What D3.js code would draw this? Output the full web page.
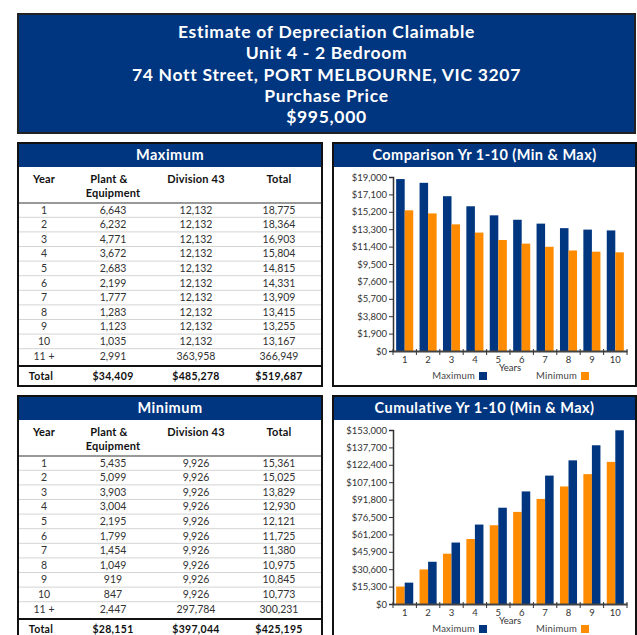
<!DOCTYPE html>
<html>
<head>
<meta charset="utf-8">
<script src="https://cdn.jsdelivr.net/npm/d3@7"></script>
<style>
  body { margin: 0; background: #fff; }
  text { font-family: "Century Gothic", Lato, "Open Sans", sans-serif; }
</style>
</head>
<body>
<div id="chart"></div>
<script>
////////////////////////////////////////////////////////////
//////////////////////// Data //////////////////////////////
////////////////////////////////////////////////////////////

var headerLines = [
    "Estimate of Depreciation Claimable",
    "Unit 4 - 2 Bedroom",
    "74 Nott Street, PORT MELBOURNE, VIC 3207",
    "Purchase Price",
    "$995,000"
];

var tableYears = ["1", "2", "3", "4", "5", "6", "7", "8", "9", "10", "11 +"];

var maxPlant = [6643, 6232, 4771, 3672, 2683, 2199, 1777, 1283, 1123, 1035, 2991];
var maxDiv43 = [12132, 12132, 12132, 12132, 12132, 12132, 12132, 12132, 12132, 12132, 363958];
var maxTotal = [18775, 18364, 16903, 15804, 14815, 14331, 13909, 13415, 13255, 13167, 366949];
var maxSums = [34409, 485278, 519687];

var minPlant = [5435, 5099, 3903, 3004, 2195, 1799, 1454, 1049, 919, 847, 2447];
var minDiv43 = [9926, 9926, 9926, 9926, 9926, 9926, 9926, 9926, 9926, 9926, 297784];
var minTotal = [15361, 15025, 13829, 12930, 12121, 11725, 11380, 10975, 10845, 10773, 300231];
var minSums = [28151, 397044, 425195];

var chartYears = ["1", "2", "3", "4", "5", "6", "7", "8", "9", "10"];
var compMax = [18775, 18364, 16903, 15804, 14815, 14331, 13909, 13415, 13255, 13167];
var compMin = [15361, 15025, 13829, 12930, 12121, 11725, 11380, 10975, 10845, 10773];
var cumMax = [18775, 37139, 54042, 69846, 84661, 98992, 112901, 126316, 139571, 152738];
var cumMin = [15361, 30386, 44215, 57145, 69266, 80991, 92371, 103346, 114191, 124964];

var compTicks = d3.range(0, 19001, 1900);
var cumTicks = d3.range(0, 153001, 15300);

////////////////////////////////////////////////////////////
//////////////////////// Set-up ////////////////////////////
////////////////////////////////////////////////////////////

var width = 637, height = 635;
var blue = "#00367f", orange = "#ff8c00";

var svg = d3.select("#chart").append("svg")
    .attr("width", width)
    .attr("height", height);

var fmt = d3.format(",");

////////////////////////////////////////////////////////////
//////////////////////// Header ////////////////////////////
////////////////////////////////////////////////////////////

svg.append("rect")
    .attr("x", 18).attr("y", 14)
    .attr("width", 617).attr("height", 119)
    .style("fill", blue)
    .style("stroke", "#222")
    .style("stroke-width", 2);

svg.selectAll(".headerText")
    .data(headerLines)
    .enter().append("text")
    .attr("x", 326.5)
    .attr("y", function (d, i) { return 32 + i * 21.3; })
    .attr("dy", "0.35em")
    .style("text-anchor", "middle")
    .style("fill", "#fff")
    .style("font-weight", "bold")
    .style("font-size", "17.5px")
    .style("letter-spacing", "0.7px")
    .text(function (d) { return d; });

////////////////////////////////////////////////////////////
//////////////////////// Tables ////////////////////////////
////////////////////////////////////////////////////////////

function drawTable(top, title, plant, div43, total, sums) {
    var g = svg.append("g");
    var left = 18, right = 322;
    var colX = [44, 113, 196, 279];
    var rowY = function (i) { return top + 67 + i * 14.6; };

    g.append("rect")
        .attr("x", left).attr("y", top)
        .attr("width", right - left).attr("height", 243)
        .style("fill", "#fff");

    //title bar
    g.append("rect")
        .attr("x", left).attr("y", top)
        .attr("width", right - left).attr("height", 24)
        .style("fill", blue);
    g.append("text")
        .attr("x", (left + right) / 2).attr("y", top + 12)
        .attr("dy", "0.35em")
        .style("text-anchor", "middle")
        .style("fill", "#fff")
        .style("font-weight", "bold")
        .style("font-size", "14.5px")
        .style("letter-spacing", "0.5px")
        .text(title);

    //column headers
    var heads = [
        { x: colX[0], lines: ["Year"] },
        { x: colX[1], lines: ["Plant &", "Equipment"] },
        { x: colX[2], lines: ["Division 43"] },
        { x: colX[3], lines: ["Total"] }
    ];
    heads.forEach(function (h) {
        h.lines.forEach(function (l, j) {
            g.append("text")
                .attr("x", h.x + (j === 0 && h.lines.length > 1 ? -4 : 0))
                .attr("y", top + 36 + j * 14)
                .attr("dy", "0.35em")
                .style("text-anchor", "middle")
                .style("font-weight", "bold")
                .style("font-size", "11px")
                .style("letter-spacing", "0.2px")
                .style("fill", "#111")
                .text(l);
        });
    });

    g.append("line")
        .attr("x1", left).attr("x2", right)
        .attr("y1", top + 60).attr("y2", top + 60)
        .style("stroke", "#999").style("stroke-width", 2);

    //row separators
    g.selectAll(".rowLine")
        .data(d3.range(10))
        .enter().append("line")
        .attr("x1", left).attr("x2", right)
        .attr("y1", function (i) { return rowY(i) + 7.3; })
        .attr("y2", function (i) { return rowY(i) + 7.3; })
        .style("stroke", "#d4d4d4").style("stroke-width", 1);

    //rows
    var rows = tableYears.map(function (y, i) {
        return [y, fmt(plant[i]), fmt(div43[i]), fmt(total[i])];
    });
    rows.forEach(function (r, i) {
        r.forEach(function (v, c) {
            g.append("text")
                .attr("x", colX[c]).attr("y", rowY(i))
                .attr("dy", "0.35em")
                .style("text-anchor", "middle")
                .style("font-size", "10.5px")
                .style("fill", "#333")
                .text(v);
        });
    });

    //total row
    g.append("line")
        .attr("x1", left).attr("x2", right)
        .attr("y1", top + 223).attr("y2", top + 223)
        .style("stroke", "#111").style("stroke-width", 2);
    ["Total"].concat(sums.map(function (s) { return "$" + fmt(s); }))
        .forEach(function (v, c) {
            g.append("text")
                .attr("x", colX[c] - (c === 0 ? 3 : 0)).attr("y", top + 233)
                .attr("dy", "0.35em")
                .style("text-anchor", "middle")
                .style("font-weight", "bold")
                .style("font-size", "10.5px")
                .style("letter-spacing", "0.3px")
                .style("fill", "#111")
                .text(v);
        });

    //outer border
    g.append("rect")
        .attr("x", left).attr("y", top)
        .attr("width", right - left).attr("height", 243)
        .style("fill", "none")
        .style("stroke", "#111").style("stroke-width", 2);
}

drawTable(143, "Maximum", maxPlant, maxDiv43, maxTotal, maxSums);
drawTable(396, "Minimum", minPlant, minDiv43, minTotal, minSums);

////////////////////////////////////////////////////////////
//////////////////////// Charts ////////////////////////////
////////////////////////////////////////////////////////////

function drawChart(top, title, series, ticks) {
    var g = svg.append("g");
    var left = 333, right = 636;
    var plotL = 393, plotR = 627;
    var y0 = top + 208, y1 = top + 34;

    g.append("rect")
        .attr("x", left).attr("y", top)
        .attr("width", right - left).attr("height", 24)
        .style("fill", blue);
    g.append("text")
        .attr("x", (left + right) / 2).attr("y", top + 12)
        .attr("dy", "0.35em")
        .style("text-anchor", "middle")
        .style("fill", "#fff")
        .style("font-weight", "bold")
        .style("font-size", "14.5px")
        .style("letter-spacing", "0.45px")
        .text(title);

    var x0 = d3.scaleBand()
        .domain(chartYears)
        .range([plotL, plotR])
        .paddingInner(0.27)
        .paddingOuter(0.135);

    var x1 = d3.scaleBand()
        .domain(series.map(function (s) { return s.name; }))
        .range([0, x0.bandwidth()]);

    var y = d3.scaleLinear()
        .domain([0, ticks[ticks.length - 1]])
        .range([y0, y1]);

    //bars
    series.forEach(function (s) {
        g.selectAll(".bar" + s.name)
            .data(s.values)
            .enter().append("rect")
            .attr("x", function (d, i) { return x0(chartYears[i]) + x1(s.name); })
            .attr("y", function (d) { return y(d); })
            .attr("width", x1.bandwidth())
            .attr("height", function (d) { return y0 - y(d); })
            .style("fill", s.color);
    });

    //y axis
    var yAxis = g.append("g")
        .attr("transform", "translate(" + plotL + ",0)")
        .call(d3.axisLeft(y)
            .tickValues(ticks)
            .tickSize(4)
            .tickPadding(2)
            .tickFormat(function (d) { return "$" + fmt(d); }));
    yAxis.select(".domain").style("stroke", "#333").style("stroke-width", 1.5);
    yAxis.selectAll(".tick line").style("stroke", "#333");
    yAxis.selectAll(".tick text")
        .style("font-size", "9.5px")
        .style("fill", "#333")
        .style("font-family", "\"Century Gothic\", Lato, sans-serif");

    //x axis
    var xAxis = g.append("g")
        .attr("transform", "translate(0," + y0 + ")")
        .call(d3.axisBottom(x0).tickSize(0).tickPadding(5));
    xAxis.select(".domain").style("stroke", "#444").style("stroke-width", 2);
    xAxis.selectAll(".tick text")
        .style("font-size", "9.5px")
        .style("fill", "#333")
        .style("font-family", "\"Century Gothic\", Lato, sans-serif");

    //category dividing ticks
    var step = x0.step();
    g.selectAll(".xdiv")
        .data(d3.range(11))
        .enter().append("line")
        .attr("x1", function (i) { return plotL + i * step; })
        .attr("x2", function (i) { return plotL + i * step; })
        .attr("y1", y0 - 2).attr("y2", y0 + 4)
        .style("stroke", "#333").style("stroke-width", 1);

    g.append("text")
        .attr("x", (plotL + plotR) / 2).attr("y", top + 225)
        .attr("dy", "0.35em")
        .style("text-anchor", "middle")
        .style("font-size", "9.5px")
        .style("fill", "#333")
        .text("Years");

    //legend
    var legend = [
        { name: "Maximum", color: blue, x: 479 },
        { name: "Minimum", color: orange, x: 581 }
    ];
    legend.forEach(function (l) {
        g.append("text")
            .attr("x", l.x - 4).attr("y", top + 233)
            .attr("dy", "0.35em")
            .style("text-anchor", "end")
            .style("font-size", "9.5px")
            .style("letter-spacing", "0.2px")
            .style("fill", "#444")
            .text(l.name);
        g.append("rect")
            .attr("x", l.x).attr("y", top + 229)
            .attr("width", 8).attr("height", 8)
            .style("fill", l.color);
    });

    g.append("rect")
        .attr("x", left).attr("y", top)
        .attr("width", right - left).attr("height", 243)
        .style("fill", "none")
        .style("stroke", "#111").style("stroke-width", 2);
}

drawChart(143, "Comparison Yr 1-10 (Min & Max)", [
    { name: "max", values: compMax, color: blue },
    { name: "min", values: compMin, color: orange }
], compTicks);

drawChart(396, "Cumulative Yr 1-10 (Min & Max)", [
    { name: "min", values: cumMin, color: orange },
    { name: "max", values: cumMax, color: blue }
], cumTicks);
</script>
</body>
</html>
